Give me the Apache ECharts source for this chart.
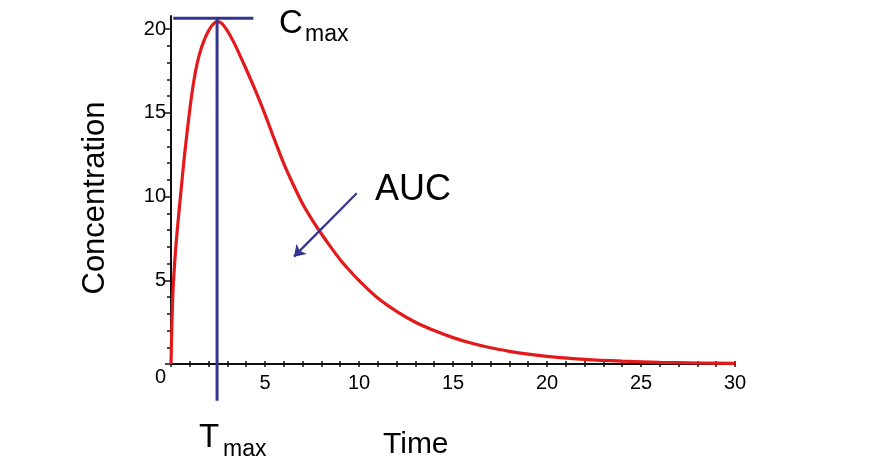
<!DOCTYPE html>
<html>
<head>
<meta charset="utf-8">
<script src="https://cdn.jsdelivr.net/npm/echarts@6/dist/echarts.min.js"></script>
<style>html,body{margin:0;padding:0;background:#fff}#c{width:889px;height:465px}</style>
</head>
<body>
<div id="c"></div>
<script>
// Concentration-time curve
const timeVals = [0, 0.04, 0.1, 0.18, 0.3, 0.5, 0.7, 0.9, 1.1, 1.3, 1.5, 1.75, 2.0, 2.2, 2.45, 2.7, 3.0, 3.3, 3.6, 4.0, 4.5, 5.0, 5.5, 6.0, 6.5, 7.0, 7.5, 8.0, 8.5, 9.0, 9.5, 10, 11, 12, 13, 14, 15, 16, 17, 18, 19, 20, 22, 24, 26, 28, 30];
const concVals = [0, 2.0, 4.2, 5.8, 7.6, 10.0, 12.3, 14.3, 16.1, 17.5, 18.5, 19.35, 19.95, 20.3, 20.5, 20.4, 19.95, 19.35, 18.65, 17.65, 16.35, 14.95, 13.45, 12.0, 10.75, 9.6, 8.65, 7.8, 7.0, 6.25, 5.6, 5.0, 3.95, 3.15, 2.5, 2.0, 1.58, 1.24, 0.97, 0.76, 0.59, 0.46, 0.28, 0.17, 0.1, 0.06, 0.04];
// Annotation lines
const cmaxLineT = [0.12, 4.38];
const cmaxLevel = 20.7;
const tmaxT = 2.45;
const tmaxRange = [20.7, -2.2];
const arrowFrom = [9.88, 10.22];
const arrowTo = [6.54, 6.43];
const yTickLabels = [0, 5, 10, 15, 20];
const xTickLabels = [5, 10, 15, 20, 25, 30];

const curve = timeVals.map((t, i) => [t, concVals[i]]);
const navy = '#33358f';
const red = '#e3191c';
const font = 'Liberation Sans, Arial, sans-serif';

const chart = echarts.init(document.getElementById('c'), null, {renderer: 'canvas'});
chart.setOption({
  animation: false,
  backgroundColor: '#fff',
  grid: [
    {left: 171, right: 154, top: 16, bottom: 101},
    {left: 171, right: 154, top: 29, bottom: 101}
  ],
  xAxis: [
    {gridIndex: 0, type: 'value', min: 0, max: 30, interval: 5,
     axisLine: {show: true, lineStyle: {color: '#111', width: 2}},
     axisTick: {show: true, length: 3, lineStyle: {color: '#111', width: 1.5}},
     minorTick: {show: true, splitNumber: 5, length: 3, lineStyle: {color: '#111', width: 1.5}},
     axisLabel: {show: true, margin: 9, fontSize: 20, color: '#000', fontFamily: font,
       formatter: v => (xTickLabels.indexOf(v) >= 0 ? String(v) : '')},
     splitLine: {show: false}},
    {gridIndex: 1, type: 'value', min: 0, max: 30, interval: 5,
     axisLine: {show: false},
     axisTick: {show: true, inside: true, length: 3, lineStyle: {color: '#111', width: 1.5}},
     minorTick: {show: true, splitNumber: 5, length: 3, lineStyle: {color: '#111', width: 1.5}},
     axisLabel: {show: false}, splitLine: {show: false}}
  ],
  yAxis: [
    {gridIndex: 0, type: 'value', min: 0, max: 20.84,
     axisLine: {show: true, lineStyle: {color: '#111', width: 2}},
     axisTick: {show: false}, axisLabel: {show: false}, splitLine: {show: false}},
    {gridIndex: 1, type: 'value', min: 0, max: 20, interval: 5,
     axisLine: {show: false},
     axisTick: {show: true, length: 6, lineStyle: {color: '#111', width: 1.5}},
     minorTick: {show: true, splitNumber: 5, length: 4, lineStyle: {color: '#111', width: 1.5}},
     axisLabel: {show: true, margin: 5, fontSize: 20, color: '#000', fontFamily: font,
       formatter: v => (v === 0 ? '{z|0}' : (yTickLabels.indexOf(v) >= 0 ? String(v) : '')),
       rich: {z: {fontSize: 20, color: '#000', fontFamily: font, padding: [26, 0, 0, 0]}}},
     splitLine: {show: false}}
  ],
  series: [
    {type: 'line', xAxisIndex: 0, yAxisIndex: 0, data: curve, smooth: 0.3,
     showSymbol: false, clip: false,
     lineStyle: {color: red, width: 3.2}},
    {type: 'line', xAxisIndex: 0, yAxisIndex: 0,
     data: [[cmaxLineT[0], cmaxLevel], [cmaxLineT[1], cmaxLevel]],
     showSymbol: false, clip: false, lineStyle: {color: navy, width: 3}},
    {type: 'line', xAxisIndex: 0, yAxisIndex: 0,
     data: [[tmaxT, tmaxRange[0]], [tmaxT, tmaxRange[1]]],
     showSymbol: false, clip: false, lineStyle: {color: navy, width: 3},
     markLine: {silent: true, symbol: ['none', 'arrow'], symbolSize: 11, label: {show: false},
       lineStyle: {color: navy, width: 2.2, type: 'solid'},
       data: [[{coord: arrowFrom}, {coord: arrowTo}]]}}
  ],
  graphic: [
    {type: 'text', x: 279, y: 7, style: {text: 'C', font: '33px ' + font, fill: '#000'}},
    {type: 'text', x: 305, y: 23, style: {text: 'max', font: '23px ' + font, fill: '#000'}},
    {type: 'text', x: 199, y: 421, style: {text: 'T', font: '33px ' + font, fill: '#000'}},
    {type: 'text', x: 223, y: 438, style: {text: 'max', font: '23px ' + font, fill: '#000'}},
    {type: 'text', x: 383, y: 430, style: {text: 'Time', font: '30px ' + font, fill: '#000'}},
    {type: 'text', x: 375, y: 172, style: {text: 'AUC', font: '36px ' + font, fill: '#000'}},
    {type: 'text', x: 95, y: 198, rotation: Math.PI / 2,
     style: {text: 'Concentration', font: '31px ' + font, fill: '#000', textAlign: 'center', textVerticalAlign: 'middle'}}
  ]
});
</script>
</body>
</html>
